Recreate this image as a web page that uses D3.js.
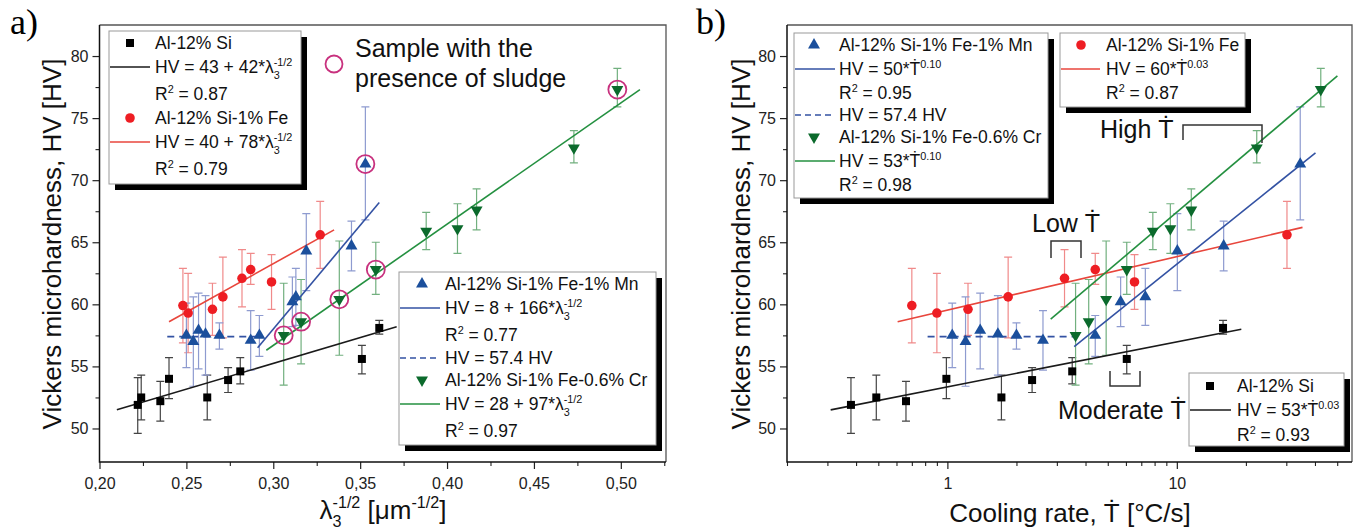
<!DOCTYPE html>
<html><head><meta charset="utf-8">
<script src="https://cdn.jsdelivr.net/npm/d3@7"></script>
<style>
body{margin:0;background:#fff}
svg{display:block}
text{font-family:"Liberation Sans",Arial,"DejaVu Sans",sans-serif}
</style>
</head><body>
<svg id="c" width="1359" height="530"></svg>
<script>
// ---------------- DATA ----------------
// Al-12% Si
const siLambda = [0.222,0.224,0.235,0.240,0.262,0.274,0.281,0.351,0.361];
const siRate   = [0.38,0.49,0.66,0.99,1.72,2.34,3.5,6.05,15.9];
const siHV     = [51.9,52.5,52.2,54.0,52.5,53.9,54.6,55.6,58.1];
const siLo     = [49.6,50.7,50.6,52.4,50.7,52.9,53.6,54.4,57.6];
const siHi     = [54.1,54.3,53.8,55.7,54.3,54.9,55.7,56.7,58.7];
// Al-12% Si-1% Fe
const feLambda = [0.248,0.251,0.265,0.271,0.282,0.287,0.299,0.327];
const feRate   = [0.70,0.90,1.23,1.84,3.24,4.41,6.54,30.2];
const feHV     = [59.9,59.3,59.6,60.6,62.1,62.8,61.8,65.6];
const feLo     = [56.9,56.1,57.5,57.3,59.8,61.6,59.6,62.9];
const feHi     = [62.9,62.5,61.7,63.8,64.4,64.1,64.0,68.3];
// Al-12% Si-1% Fe-1% Mn
const mnLambda = [0.250,0.254,0.257,0.261,0.269,0.287,0.292,0.311,0.313,0.319,0.345,0.353];
const mnRate   = [1.05,1.20,1.39,1.66,2.0,2.61,4.41,5.69,7.29,10.05,16.0,34.5];
const mnHV     = [57.5,57.0,57.9,57.6,57.5,57.1,57.5,60.2,60.6,64.3,64.7,71.3];
const mnLo     = [54.9,53.4,54.8,54.3,56.4,54.7,55.8,58.2,58.3,61.1,62.7,66.8];
const mnHi     = [60.1,60.6,60.9,60.7,58.5,59.5,59.1,62.2,62.9,67.3,66.7,75.9];
// Al-12% Si-1% Fe-0.6% Cr
const crLambda = [0.306,0.316,0.338,0.359,0.388,0.406,0.417,0.473,0.498];
const crRate   = [3.62,4.13,4.92,6.05,7.86,9.37,11.56,22.3,42.4];
const crHV     = [57.5,58.6,60.4,62.8,65.9,66.1,67.6,72.6,77.3];
const crLo     = [53.5,55.2,55.9,60.8,64.4,64.1,66.0,71.4,75.9];
const crHi     = [61.7,62.0,65.1,65.0,67.4,68.1,69.3,74.0,79.0];
// samples with sludge (panel a)
const sludgeLambda = [0.306,0.316,0.338,0.359,0.498,0.353];
const sludgeHV     = [57.5,58.6,60.4,62.8,77.3,71.3];
// fitted lines (end points)
const fitSiLambda = [0.210,0.371], fitSiHVa = [51.5,58.2];
const fitFeLambda = [0.240,0.335], fitFeHVa = [58.6,66.0];
const fitMnLambda = [0.291,0.361], fitMnHVa = [56.5,68.2];
const fitCrLambda = [0.296,0.511], fitCrHVa = [56.3,77.3];
const flatMnLambda = [0.239,0.293], flatMnHV = [57.4,57.4];
const fitSiRate = [0.31,19.1],  fitSiHVb = [51.5,58.0];
const fitFeRate = [0.607,35.3], fitFeHVb = [58.6,66.2];
const fitMnRate = [3.57,40.2],  fitMnHVb = [56.6,72.2];
const fitCrRate = [2.82,50.1],  fitCrHVb = [58.8,78.4];
const flatMnRate = [0.82,3.55];
// ticks
const yTicks = [50,55,60,65,70,75,80];
const yMinor = [52.5,57.5,62.5,67.5,72.5,77.5];
const xTicksA = [0.20,0.25,0.30,0.35,0.40,0.45,0.50];
const xMinorA = [0.225,0.275,0.325,0.375,0.425,0.475,0.525];
const xTicksB = [1,10];
const xMinorB = [0.2,0.3,0.4,0.5,0.6,0.7,0.8,0.9,2,3,4,5,6,7,8,9,20,30,40,50];

// ---------------- STYLE ----------------
const C = {
  si:{pt:'#000',err:'#444',line:'#1a1a1a',shape:'square'},
  fe:{pt:'#ee1d23',err:'#f08a8a',line:'#e8463c',shape:'circle'},
  mn:{pt:'#1b4f9c',err:'#8e9bd0',line:'#3352a3',shape:'tri'},
  cr:{pt:'#0b6a2c',err:'#72b07f',line:'#249040',shape:'tridown'}
};
const MAG = '#c8317e';
const svg = d3.select('#c');
const TOP = 25, BOT = 462;
const y = d3.scaleLinear([47.3,82.5],[BOT,TOP]);
const xA = d3.scaleLinear([0.2,0.526],[99.5,666]);
const xB = d3.scaleLog([0.2,58],[787,1352]);

function symPath(shape){
  if(shape==='square') return d3.symbol(d3.symbolSquare,64)();
  if(shape==='circle') return d3.symbol(d3.symbolCircle,72)();
  return d3.symbol(d3.symbolTriangle,62)();
}
function marker(g,shape,color,px,py){
  g.append('path').attr('d',symPath(shape)).attr('fill',color)
   .attr('transform',`translate(${px},${py})`+(shape==='tridown'?' rotate(180)':''));
}

function rich(g,x,yb,parts,fs,opts={}){
  const t = g.append('text').attr('x',x).attr('y',yb).attr('font-size',fs).attr('fill','#111');
  if(opts.anchor) t.attr('text-anchor',opts.anchor);
  if(opts.transform) t.attr('transform',opts.transform);
  let cur = 0; const sfs = fs*0.62;
  parts.forEach(p=>{
    const [s,mode] = typeof p==='string'?[p,'n']:p;
    let target=0,size=fs,dx=0;
    if(mode==='sup'){target=-0.42*fs;size=sfs;}
    else if(mode==='sub'){target=0.3*fs;size=sfs;}
    else if(mode==='supx'){target=-0.42*fs;size=sfs;dx=-0.556*sfs;}
    const ts = t.append('tspan').text(s).attr('font-size',size).attr('dy',target-cur);
    if(dx) ts.attr('dx',dx);
    cur=target;
  });
  return t;
}

function panel(x, minor, ticksX, fmt, series, fits, x0, x1){
  const g = svg.append('g');
  const ax = g.append('g').attr('transform',`translate(0,${BOT})`)
    .call(d3.axisBottom(x).tickValues(ticksX).tickSize(7).tickPadding(9).tickFormat(fmt));
  ax.select('.domain').remove();
  ax.attr('font-family',null).attr('font-size',16);
  ax.selectAll('text').attr('fill','#222');
  ax.selectAll('line').attr('stroke','#222').attr('stroke-width',1.2);
  const axm = g.append('g').attr('transform',`translate(0,${BOT})`)
    .call(d3.axisBottom(x).tickValues(minor).tickSize(4).tickFormat(''));
  axm.select('.domain').remove();
  axm.selectAll('line').attr('stroke','#222').attr('stroke-width',1.1);
  const ay = g.append('g').attr('transform',`translate(${x0},0)`)
    .call(d3.axisLeft(y).tickValues(yTicks).tickSize(7).tickPadding(4));
  ay.select('.domain').remove();
  ay.attr('font-family',null).attr('font-size',16);
  ay.selectAll('text').attr('fill','#222');
  ay.selectAll('line').attr('stroke','#222').attr('stroke-width',1.2);
  const aym = g.append('g').attr('transform',`translate(${x0},0)`)
    .call(d3.axisLeft(y).tickValues(yMinor).tickSize(4).tickFormat(''));
  aym.select('.domain').remove();
  aym.selectAll('line').attr('stroke','#222').attr('stroke-width',1.1);
  g.append('path').attr('d',`M${x0},${TOP}H${x1}V${BOT}`).attr('fill','none').attr('stroke','#555').attr('stroke-width',1.3);
  g.append('path').attr('d',`M${x0},${TOP}V${BOT}H${x1}`).attr('fill','none').attr('stroke','#111').attr('stroke-width',1.5);
  series.forEach(s=>{
    s.xs.forEach((xv,i)=>{
      const px=x(xv), a=y(s.lo[i]), b=y(s.hi[i]);
      g.append('path').attr('d',`M${px},${a}V${b}M${px-4},${a}H${px+4}M${px-4},${b}H${px+4}`)
        .attr('stroke',s.st.err).attr('stroke-width',1.2).attr('fill','none');
    });
  });
  fits.forEach(f=>{
    const line = d3.line().x(d=>x(d[0])).y(d=>y(d[1]));
    g.append('path').attr('d',line(f.xs.map((v,i)=>[v,f.ys[i]])))
      .attr('stroke',f.color).attr('stroke-width',1.6).attr('fill','none')
      .attr('stroke-dasharray',f.dash||null);
  });
  series.forEach(s=>{
    s.xs.forEach((xv,i)=>marker(g,s.st.shape,s.st.pt,x(xv),y(s.hv[i])));
  });
  return g;
}

const gA = panel(xA, xMinorA, xTicksA, d=>d.toFixed(2).replace('.',','), [
  {xs:siLambda,hv:siHV,lo:siLo,hi:siHi,st:C.si},
  {xs:feLambda,hv:feHV,lo:feLo,hi:feHi,st:C.fe},
  {xs:mnLambda,hv:mnHV,lo:mnLo,hi:mnHi,st:C.mn},
  {xs:crLambda,hv:crHV,lo:crLo,hi:crHi,st:C.cr}
],[
  {xs:fitSiLambda,ys:fitSiHVa,color:C.si.line},
  {xs:fitFeLambda,ys:fitFeHVa,color:C.fe.line},
  {xs:flatMnLambda,ys:flatMnHV,color:C.mn.line,dash:'7,5'},
  {xs:fitMnLambda,ys:fitMnHVa,color:C.mn.line},
  {xs:fitCrLambda,ys:fitCrHVa,color:C.cr.line}
], 99.5, 666);
sludgeLambda.forEach((v,i)=>{
  gA.append('circle').attr('cx',xA(v)).attr('cy',y(sludgeHV[i])).attr('r',9)
    .attr('fill','none').attr('stroke',MAG).attr('stroke-width',1.8);
});

const gB = panel(xB, xMinorB, xTicksB, d3.format('d'), [
  {xs:siRate,hv:siHV,lo:siLo,hi:siHi,st:C.si},
  {xs:feRate,hv:feHV,lo:feLo,hi:feHi,st:C.fe},
  {xs:mnRate,hv:mnHV,lo:mnLo,hi:mnHi,st:C.mn},
  {xs:crRate,hv:crHV,lo:crLo,hi:crHi,st:C.cr}
],[
  {xs:fitSiRate,ys:fitSiHVb,color:C.si.line},
  {xs:fitFeRate,ys:fitFeHVb,color:C.fe.line},
  {xs:flatMnRate,ys:flatMnHV,color:C.mn.line,dash:'7,5'},
  {xs:fitMnRate,ys:fitMnHVb,color:C.mn.line},
  {xs:fitCrRate,ys:fitCrHVb,color:C.cr.line}
], 787, 1352);

// ---------------- TITLES ----------------
const TF = 26;
svg.append('text').attr('x',10).attr('y',34).attr('font-size',36)
  .style('font-family','"Liberation Serif","Times New Roman",serif').text('a)');
svg.append('text').attr('x',696).attr('y',34).attr('font-size',36)
  .style('font-family','"Liberation Serif","Times New Roman",serif').text('b)');
rich(svg,0,0,['Vickers microhardness, HV [HV]'],TF,{anchor:'middle',transform:'translate(61,244) rotate(-90)'});
rich(svg,0,0,['Vickers microhardness, HV [HV]'],TF,{anchor:'middle',transform:'translate(750,244) rotate(-90)'});
rich(svg,383,519,['λ',['3','sub'],['-1/2','supx'],' [μm',['-1/2','sup'],']'],TF,{anchor:'middle'});
rich(svg,1070,522,['Cooling rate, Ṫ [°C/s]'],TF,{anchor:'middle'});

// ---------------- LEGENDS ----------------
const LF = 17.5;
const lam = n => ['HV = '+n+'*λ',['3','sub'],['-1/2','supx']];
const r2 = v => ['R',['2','sup'],' = '+v];
function legend(box, rows){
  const g = svg.append('g');
  g.append('rect').attr('x',box.x+6).attr('y',box.y+6).attr('width',box.w).attr('height',box.h).attr('fill','#000');
  g.append('rect').attr('x',box.x).attr('y',box.y).attr('width',box.w).attr('height',box.h)
    .attr('fill','#fff').attr('stroke','#999').attr('stroke-width',1);
  rows.forEach(r=>{
    if(r.shape) marker(g,r.shape,r.color,box.x+box.sx,r.y);
    if(r.line) g.append('line').attr('x1',box.x+1).attr('x2',box.x+box.lx).attr('y1',r.y).attr('y2',r.y)
       .attr('stroke',r.line).attr('stroke-width',1.6).attr('stroke-dasharray',r.dash||null);
    rich(g,box.x+box.tx,r.y+6.3,r.parts,LF);
  });
}
legend({x:109,y:31,w:192,h:153,sx:21,lx:41,tx:46},[
  {y:43,shape:'square',color:C.si.pt,parts:['Al-12% Si']},
  {y:67,line:C.si.line,parts:lam('43 + 42')},
  {y:94,parts:r2('0.87')},
  {y:118,shape:'circle',color:C.fe.pt,parts:['Al-12% Si-1% Fe']},
  {y:142,line:C.fe.line,parts:lam('40 + 78')},
  {y:169,parts:r2('0.79')}
]);
legend({x:399,y:272,w:257,h:173,sx:23,lx:41,tx:46},[
  {y:284,shape:'tri',color:C.mn.pt,parts:['Al-12% Si-1% Fe-1% Mn']},
  {y:308,line:C.mn.line,parts:lam('8 + 166')},
  {y:335,parts:r2('0.77')},
  {y:358,line:C.mn.line,dash:'6,4',parts:['HV = 57.4 HV']},
  {y:380,shape:'tridown',color:C.cr.pt,parts:['Al-12% Si-1% Fe-0.6% Cr']},
  {y:404,line:C.cr.line,parts:lam('28 + 97')},
  {y:431,parts:r2('0.97')}
]);
legend({x:794,y:33,w:254,h:165,sx:20,lx:41,tx:45},[
  {y:45,shape:'tri',color:C.mn.pt,parts:['Al-12% Si-1% Fe-1% Mn']},
  {y:69,line:C.mn.line,parts:['HV = 50*Ṫ',['0.10','sup']]},
  {y:93,parts:r2('0.95')},
  {y:115,line:C.mn.line,dash:'6,4',parts:['HV = 57.4 HV']},
  {y:137,shape:'tridown',color:C.cr.pt,parts:['Al-12% Si-1% Fe-0.6% Cr']},
  {y:161,line:C.cr.line,parts:['HV = 53*Ṫ',['0.10','sup']]},
  {y:185,parts:r2('0.98')}
]);
legend({x:1060,y:33,w:185,h:74,sx:21,lx:40,tx:46},[
  {y:45,shape:'circle',color:C.fe.pt,parts:['Al-12% Si-1% Fe']},
  {y:69,line:C.fe.line,parts:['HV = 60*Ṫ',['0.03','sup']]},
  {y:93,parts:r2('0.87')}
]);
legend({x:1189,y:373,w:155,h:73,sx:21,lx:42,tx:48},[
  {y:386,shape:'square',color:C.si.pt,parts:['Al-12% Si']},
  {y:410,line:C.si.line,parts:['HV = 53*Ṫ',['0.03','sup']]},
  {y:435,parts:r2('0.93')}
]);

// ---------------- ANNOTATIONS ----------------
const AF = 25;
svg.append('circle').attr('cx',334).attr('cy',64).attr('r',8.5).attr('fill','none').attr('stroke',MAG).attr('stroke-width',1.8);
rich(svg,355,57,['Sample with the'],AF);
rich(svg,355,87,['presence of sludge'],AF);
rich(svg,1032,232,['Low Ṫ'],AF);
rich(svg,1100,138,['High Ṫ'],AF);
rich(svg,1058,419,['Moderate Ṫ'],AF);
const br = svg.append('g').attr('fill','none').attr('stroke','#333').attr('stroke-width',1.5);
br.append('path').attr('d','M1051,258V241H1081V258');
br.append('path').attr('d','M1183,140V125H1262V143');
br.append('path').attr('d','M1110,371V386H1140V371');
</script>
</body></html>
